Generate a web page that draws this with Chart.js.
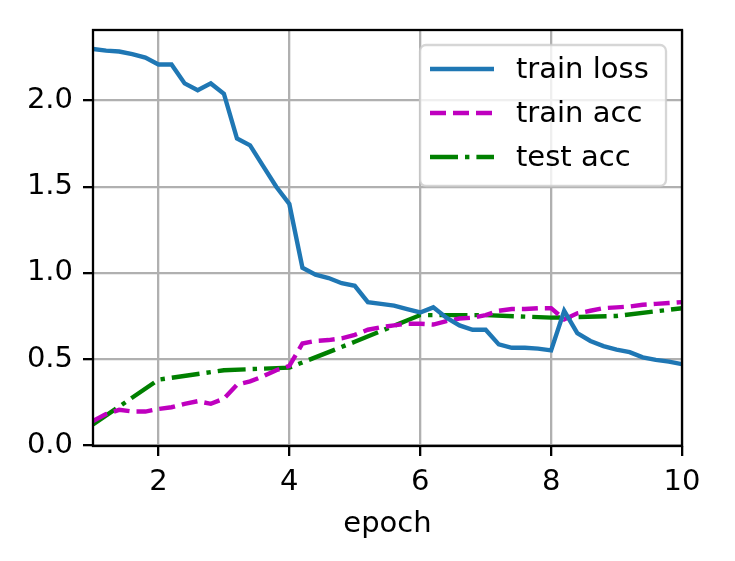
<!DOCTYPE html>
<html>
<head>
<meta charset="utf-8">
<script src="https://cdn.jsdelivr.net/npm/chart.js@4.4.1/dist/chart.umd.min.js"></script>
<style>
  body { margin: 0; background: #fff; }
  #wrap { width: 735px; height: 561px; }
</style>
</head>
<body>
<div id="wrap"><canvas id="lossChart" width="735" height="561"></canvas></div>
<script>
// epochs where the batch metrics were logged (5 per epoch)
const epochsFine = [1.0, 1.2, 1.4, 1.6, 1.8, 2.0, 2.2, 2.4, 2.6, 2.8,
    3.0, 3.2, 3.4, 3.6, 3.8, 4.0, 4.2, 4.4, 4.6, 4.8,
    5.0, 5.2, 5.4, 5.6, 5.8, 6.0, 6.2, 6.4, 6.6, 6.8,
    7.0, 7.2, 7.4, 7.6, 7.8, 8.0, 8.2, 8.4, 8.6, 8.8,
    9.0, 9.2, 9.4, 9.6, 9.8, 10.0];
const trainLoss = [2.30, 2.29, 2.285, 2.27, 2.25, 2.21, 2.21, 2.10, 2.06, 2.10,
    2.04, 1.78, 1.74, 1.62, 1.50, 1.40, 1.03, 0.99, 0.97, 0.94,
    0.925, 0.83, 0.82, 0.81, 0.79, 0.77, 0.80, 0.74, 0.695, 0.67,
    0.67, 0.585, 0.565, 0.565, 0.56, 0.55, 0.78, 0.65, 0.605, 0.575,
    0.555, 0.54, 0.51, 0.495, 0.485, 0.47];
const trainAcc = [0.14, 0.18, 0.205, 0.195, 0.195, 0.21, 0.22, 0.24, 0.255, 0.24,
    0.27, 0.35, 0.37, 0.40, 0.435, 0.46, 0.59, 0.605, 0.61, 0.62,
    0.64, 0.67, 0.685, 0.695, 0.705, 0.705, 0.70, 0.72, 0.735, 0.74,
    0.755, 0.78, 0.79, 0.79, 0.795, 0.795, 0.73, 0.765, 0.78, 0.795,
    0.80, 0.805, 0.815, 0.82, 0.825, 0.83];
// test accuracy is only measured at the end of each epoch
const epochsTest = [1, 2, 3, 4, 5, 6, 7, 8, 9, 10];
const testAcc = [0.12, 0.38, 0.435, 0.45, 0.60, 0.755, 0.755, 0.74, 0.75, 0.795];

const xTicks = [2, 4, 6, 8, 10];
const yTicks = [0.0, 0.5, 1.0, 1.5, 2.0];

const FONT = 'DejaVu Sans';
const GRID = '#b0b0b0';

function pts(xs, ys) {
    return xs.map((x, i) => ({ x: x, y: ys[i] }));
}

// black box around the plot area (matplotlib spines)
const framePlugin = {
    id: 'frame',
    afterDatasetsDraw(chart) {
        const a = chart.chartArea;
        const ctx = chart.ctx;
        ctx.save();
        ctx.strokeStyle = '#000';
        ctx.lineWidth = 2.3;
        ctx.strokeRect(a.left, a.top, a.right - a.left, a.bottom - a.top);
        ctx.restore();
    }
};

// legend inside the axes, upper right
const legendPlugin = {
    id: 'boxLegend',
    afterDraw(chart) {
        const ctx = chart.ctx;
        const x0 = 420, y0 = 45, w = 246, h = 141, r = 6;
        ctx.save();
        ctx.beginPath();
        ctx.roundRect(x0, y0, w, h, r);
        ctx.fillStyle = 'rgba(255,255,255,0.8)';
        ctx.fill();
        ctx.lineWidth = 2.3;
        ctx.strokeStyle = 'rgba(204,204,204,0.8)';
        ctx.stroke();
        chart.data.datasets.forEach((ds, i) => {
            const y = 69 + i * 44;
            ctx.beginPath();
            ctx.setLineDash(ds.borderDash || []);
            ctx.lineWidth = ds.borderWidth;
            ctx.strokeStyle = ds.borderColor;
            ctx.moveTo(430, y);
            ctx.lineTo(494, y);
            ctx.stroke();
            ctx.setLineDash([]);
            ctx.fillStyle = '#000';
            ctx.font = '29px "' + FONT + '"';
            ctx.textBaseline = 'middle';
            ctx.textAlign = 'left';
            ctx.fillText(ds.label, 516, y + 1.5);
        });
        ctx.restore();
    }
};

const ctx = document.getElementById('lossChart').getContext('2d');
new Chart(ctx, {
    type: 'line',
    data: {
        datasets: [
            {
                label: 'train loss',
                data: pts(epochsFine, trainLoss),
                borderColor: '#1f77b4',
                borderWidth: 4.4,
                pointRadius: 0,
                tension: 0
            },
            {
                label: 'train acc',
                data: pts(epochsFine, trainAcc),
                borderColor: '#bf00bf',
                borderWidth: 4.4,
                borderDash: [16, 7],
                pointRadius: 0,
                tension: 0
            },
            {
                label: 'test acc',
                data: pts(epochsTest, testAcc),
                borderColor: '#008000',
                borderWidth: 4.4,
                borderDash: [28, 7, 4.4, 7],
                pointRadius: 0,
                tension: 0
            }
        ]
    },
    options: {
        responsive: false,
        animation: false,
        devicePixelRatio: 1,
        layout: { padding: { left: 0, right: 53, top: 30, bottom: 0 } },
        plugins: {
            legend: { display: false },
            tooltip: { enabled: false }
        },
        scales: {
            x: {
                type: 'linear',
                min: 1,
                max: 10,
                afterBuildTicks(scale) { scale.ticks = xTicks.map(v => ({ value: v })); },
                afterFit(scale) { scale.height = 115; },
                border: { display: false },
                grid: {
                    color: GRID,
                    lineWidth: 2.3,
                    tickColor: '#000',
                    tickWidth: 2.3,
                    tickLength: 10
                },
                ticks: {
                    color: '#000',
                    font: { family: FONT, size: 29 },
                    padding: 9,
                    maxRotation: 0,
                    callback: v => String(v)
                },
                title: {
                    display: true,
                    text: 'epoch',
                    color: '#000',
                    font: { family: FONT, size: 29 },
                    padding: { top: 0, bottom: 19 }
                }
            },
            y: {
                type: 'linear',
                min: -0.005,
                max: 2.41,
                afterBuildTicks(scale) { scale.ticks = yTicks.map(v => ({ value: v })); },
                afterFit(scale) { scale.width = 93; },
                border: { display: false },
                grid: {
                    color: GRID,
                    lineWidth: 2.3,
                    tickColor: '#000',
                    tickWidth: 2.3,
                    tickLength: 10
                },
                ticks: {
                    color: '#000',
                    font: { family: FONT, size: 29 },
                    padding: 10,
                    callback: v => v.toFixed(1)
                }
            }
        }
    },
    plugins: [framePlugin, legendPlugin]
});
</script>
</body>
</html>
